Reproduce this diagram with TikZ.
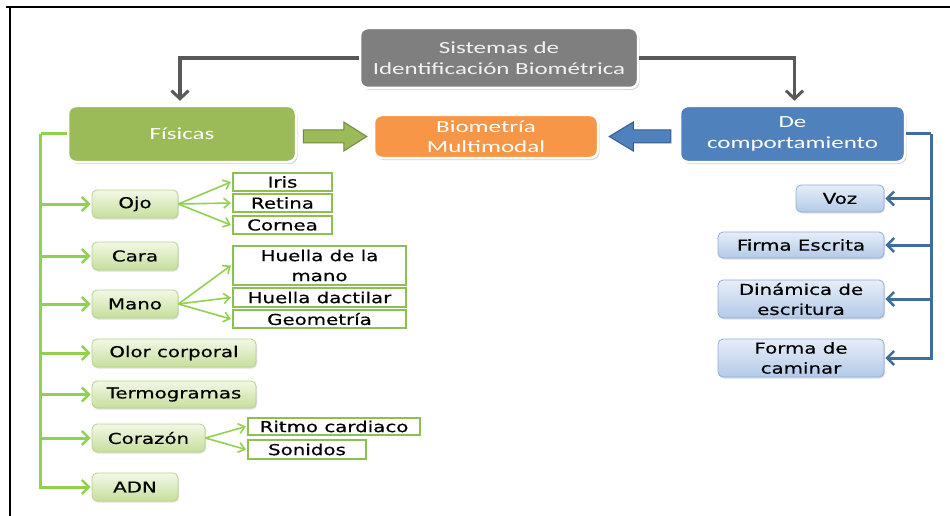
\documentclass[tikz,border=0pt]{standalone}
\usepackage{fontspec}
\usetikzlibrary{arrows.meta,calc,shadows}
\newfontfamily\headfont[FakeStretch=1.47]{Carlito}
\newfontfamily\itemfont[FakeStretch=1.32,FakeBold=0.4]{DejaVu Sans}
\definecolor{topgray}{HTML}{7F7F7F}
\definecolor{arrowgray}{HTML}{595959}
\definecolor{physgreen}{HTML}{9BBB59}
\definecolor{physgreendark}{HTML}{71893F}
\definecolor{multiorange}{HTML}{F79646}
\definecolor{behblue}{HTML}{4F81BD}
\definecolor{behbluedark}{HTML}{385D8A}
\definecolor{linegreen}{HTML}{92D050}
\definecolor{leafgreen}{HTML}{8CC152}
\definecolor{linkblue}{HTML}{3F6D9E}
\definecolor{sgtop}{HTML}{F2F8E6}
\definecolor{sgbot}{HTML}{C6DF9C}
\definecolor{sgdraw}{HTML}{B5D38A}
\definecolor{sbtop}{HTML}{E6EEF8}
\definecolor{sbbot}{HTML}{B3CAE8}
\definecolor{sbdraw}{HTML}{8EAEDA}
\tikzset{
  headbox/.style={rectangle, rounded corners=8pt, draw=white, line width=2.5pt,
    text=white, font=\headfont\fontsize{17}{20.5}\selectfont, align=center,
    inner sep=0pt, drop shadow={shadow xshift=1.5pt, shadow yshift=-2pt, opacity=0.35}},
  greenitem/.style={rectangle, rounded corners=5pt, draw=sgdraw, line width=0.8pt,
    top color=sgtop, bottom color=sgbot, text=black,
    font=\itemfont\fontsize{15}{20}\selectfont, align=center, inner sep=0pt,
    minimum height=28pt,
    drop shadow={shadow xshift=1pt, shadow yshift=-1.5pt, opacity=0.25}},
  blueitem/.style={rectangle, rounded corners=5pt, draw=sbdraw, line width=0.8pt,
    top color=sbtop, bottom color=sbbot, text=black,
    font=\itemfont\fontsize{15}{20}\selectfont, align=center, inner sep=0pt,
    drop shadow={shadow xshift=1pt, shadow yshift=-1.5pt, opacity=0.25}},
  leaf/.style={rectangle, draw=leafgreen, line width=2.2pt, fill=white, text=black,
    font=\itemfont\fontsize{15}{20}\selectfont, align=center, inner sep=0pt},
  grayarrow/.style={draw=arrowgray, line width=3.5pt,
    -{Straight Barb[length=8pt,width=17pt,line width=3pt]}},
  trunkgreen/.style={draw=linegreen, line width=3pt},
  branchgreen/.style={draw=linegreen, line width=3pt,
    -{Straight Barb[length=7pt,width=14pt,line width=2.5pt]}},
  twiggreen/.style={draw=linegreen, line width=1.6pt,
    -{Straight Barb[length=6pt,width=10pt,line width=1.6pt]}},
  trunkblue/.style={draw=linkblue, line width=3pt},
  branchblue/.style={draw=linkblue, line width=3pt,
    -{Straight Barb[length=7pt,width=14pt,line width=2.5pt]}},
}
\begin{document}
\begin{tikzpicture}[x=1pt,y=-1pt]
\useasboundingbox (0,0) rectangle (950,516);
\fill[white] (0,0) rectangle (950,516);

% outer frame (top and left edges)
\draw[black, line width=2.5pt] (6,7) -- (950,7);
\draw[black, line width=2pt] (10,7) -- (10,516);

% main categories
\node[headbox, fill=topgray, minimum width=278pt, minimum height=60pt,
      text=white!95!black] (top) at (499,58) {Sistemas de\\Identificación Biométrica};
\node[headbox, fill=physgreen, minimum width=228pt, minimum height=56pt] (fis) at (182,134) {Físicas};
\node[headbox, fill=multiorange, minimum width=224pt, minimum height=43pt,
      font=\headfont\fontsize{17}{20}\selectfont] (bio) at (486,136.5) {Biometría\\Multimodal};
\node[headbox, fill=behblue, minimum width=225pt, minimum height=56pt] (dc) at (792.5,134) {De\\comportamiento};

% split from the root
\draw[grayarrow] (top.west) -| ($(fis.north)+(-2,-4)$);
\draw[grayarrow] (top.east) -| ($(dc.north)+(2,-4)$);

% block arrows into the multimodal box
\coordinate (gs) at ($(fis.east |- bio.west)+(6,0)$);
\coordinate (ge) at ($(bio.west)+(-6,0)$);
\filldraw[fill=physgreen, draw=physgreendark, line width=1pt]
  ($(gs)+(0,-6.5)$) -- ($(ge)+(-23,-6.5)$) -- ($(ge)+(-23,-14.5)$) -- (ge)
  -- ($(ge)+(-23,14.5)$) -- ($(ge)+(-23,6.5)$) -- ($(gs)+(0,6.5)$) -- cycle;
\coordinate (bs) at ($(dc.west |- bio.east)+(-8,0)$);
\coordinate (be) at ($(bio.east)+(10,0)$);
\filldraw[fill=behblue, draw=behbluedark, line width=1pt]
  ($(bs)+(0,-6.5)$) -- ($(be)+(24,-6.5)$) -- ($(be)+(24,-14.5)$) -- (be)
  -- ($(be)+(24,14.5)$) -- ($(be)+(24,6.5)$) -- ($(bs)+(0,6.5)$) -- cycle;

% physical traits
\node[greenitem, minimum width=86pt] (ojo) at (135,204) {Ojo};
\node[greenitem, minimum width=86pt] (cara) at (135,256) {Cara};
\node[greenitem, minimum width=86pt] (mano) at (135,304) {Mano};
\node[greenitem, minimum width=164pt] (olor) at (174,353) {Olor corporal};
\node[greenitem, minimum width=164pt, minimum height=27pt] (termo) at (174,394.5) {Termogramas};
\node[greenitem, minimum width=113pt] (cora) at (148.5,438) {Corazón};
\node[greenitem, minimum width=86pt] (adn) at (135,487) {ADN};

\node[leaf, minimum width=99pt, minimum height=18pt] (iris) at (282.5,182) {Iris};
\node[leaf, minimum width=99pt, minimum height=18pt] (retina) at (282.5,203) {Retina};
\node[leaf, minimum width=99pt, minimum height=18pt] (cornea) at (282.5,225) {Cornea};
\node[leaf, minimum width=173pt, minimum height=39pt] (hmano) at (319.5,265.5) {Huella de la\\mano};
\node[leaf, minimum width=173pt, minimum height=19pt] (hdact) at (319.5,297.5) {Huella dactilar};
\node[leaf, minimum width=173pt, minimum height=18pt] (geom) at (319.5,319) {Geometría};
\node[leaf, minimum width=172pt, minimum height=17pt] (ritmo) at (334,426.5) {Ritmo cardiaco};
\node[leaf, minimum width=118pt, minimum height=19pt] (sonidos) at (307,449.5) {Sonidos};

% green tree
\coordinate (gt) at ($(fis.west)+(-26,0)$);
\draw[trunkgreen] (fis.west) -- (gt);
\draw[branchgreen] (gt) |- ($(adn.west)+(-1,0)$);
\foreach \n in {ojo,cara,mano,olor,termo,cora}
  \draw[branchgreen] (gt |- \n.west) -- ($(\n.west)+(-1,0)$);

\foreach \n in {iris,retina,cornea}
  \draw[twiggreen] (ojo.east) -- ($(\n.west)+(-1,0)$);
\foreach \n in {hmano,hdact,geom}
  \draw[twiggreen] (mano.east) -- ($(\n.west)+(-1,0)$);
\foreach \n in {ritmo,sonidos}
  \draw[twiggreen] (cora.east) -- ($(\n.west)+(-1,0)$);

% behavioural traits
\node[blueitem, minimum width=88pt, minimum height=27pt] (voz) at (840,198.5) {Voz};
\node[blueitem, minimum width=166pt, minimum height=26pt] (firma) at (801,245) {Firma Escrita};
\node[blueitem, minimum width=166pt, minimum height=38pt] (dina) at (801,299) {Dinámica de\\escritura};
\node[blueitem, minimum width=166pt, minimum height=38pt] (forma) at (801,358) {Forma de\\caminar};

\coordinate (bt) at ($(dc.east)+(25,0)$);
\draw[trunkblue] (dc.east) -- (bt);
\draw[branchblue] (bt) |- ($(forma.east)+(1,0)$);
\foreach \n in {voz,firma,dina}
  \draw[branchblue] (bt |- \n.east) -- ($(\n.east)+(1,0)$);
\end{tikzpicture}
\end{document}
